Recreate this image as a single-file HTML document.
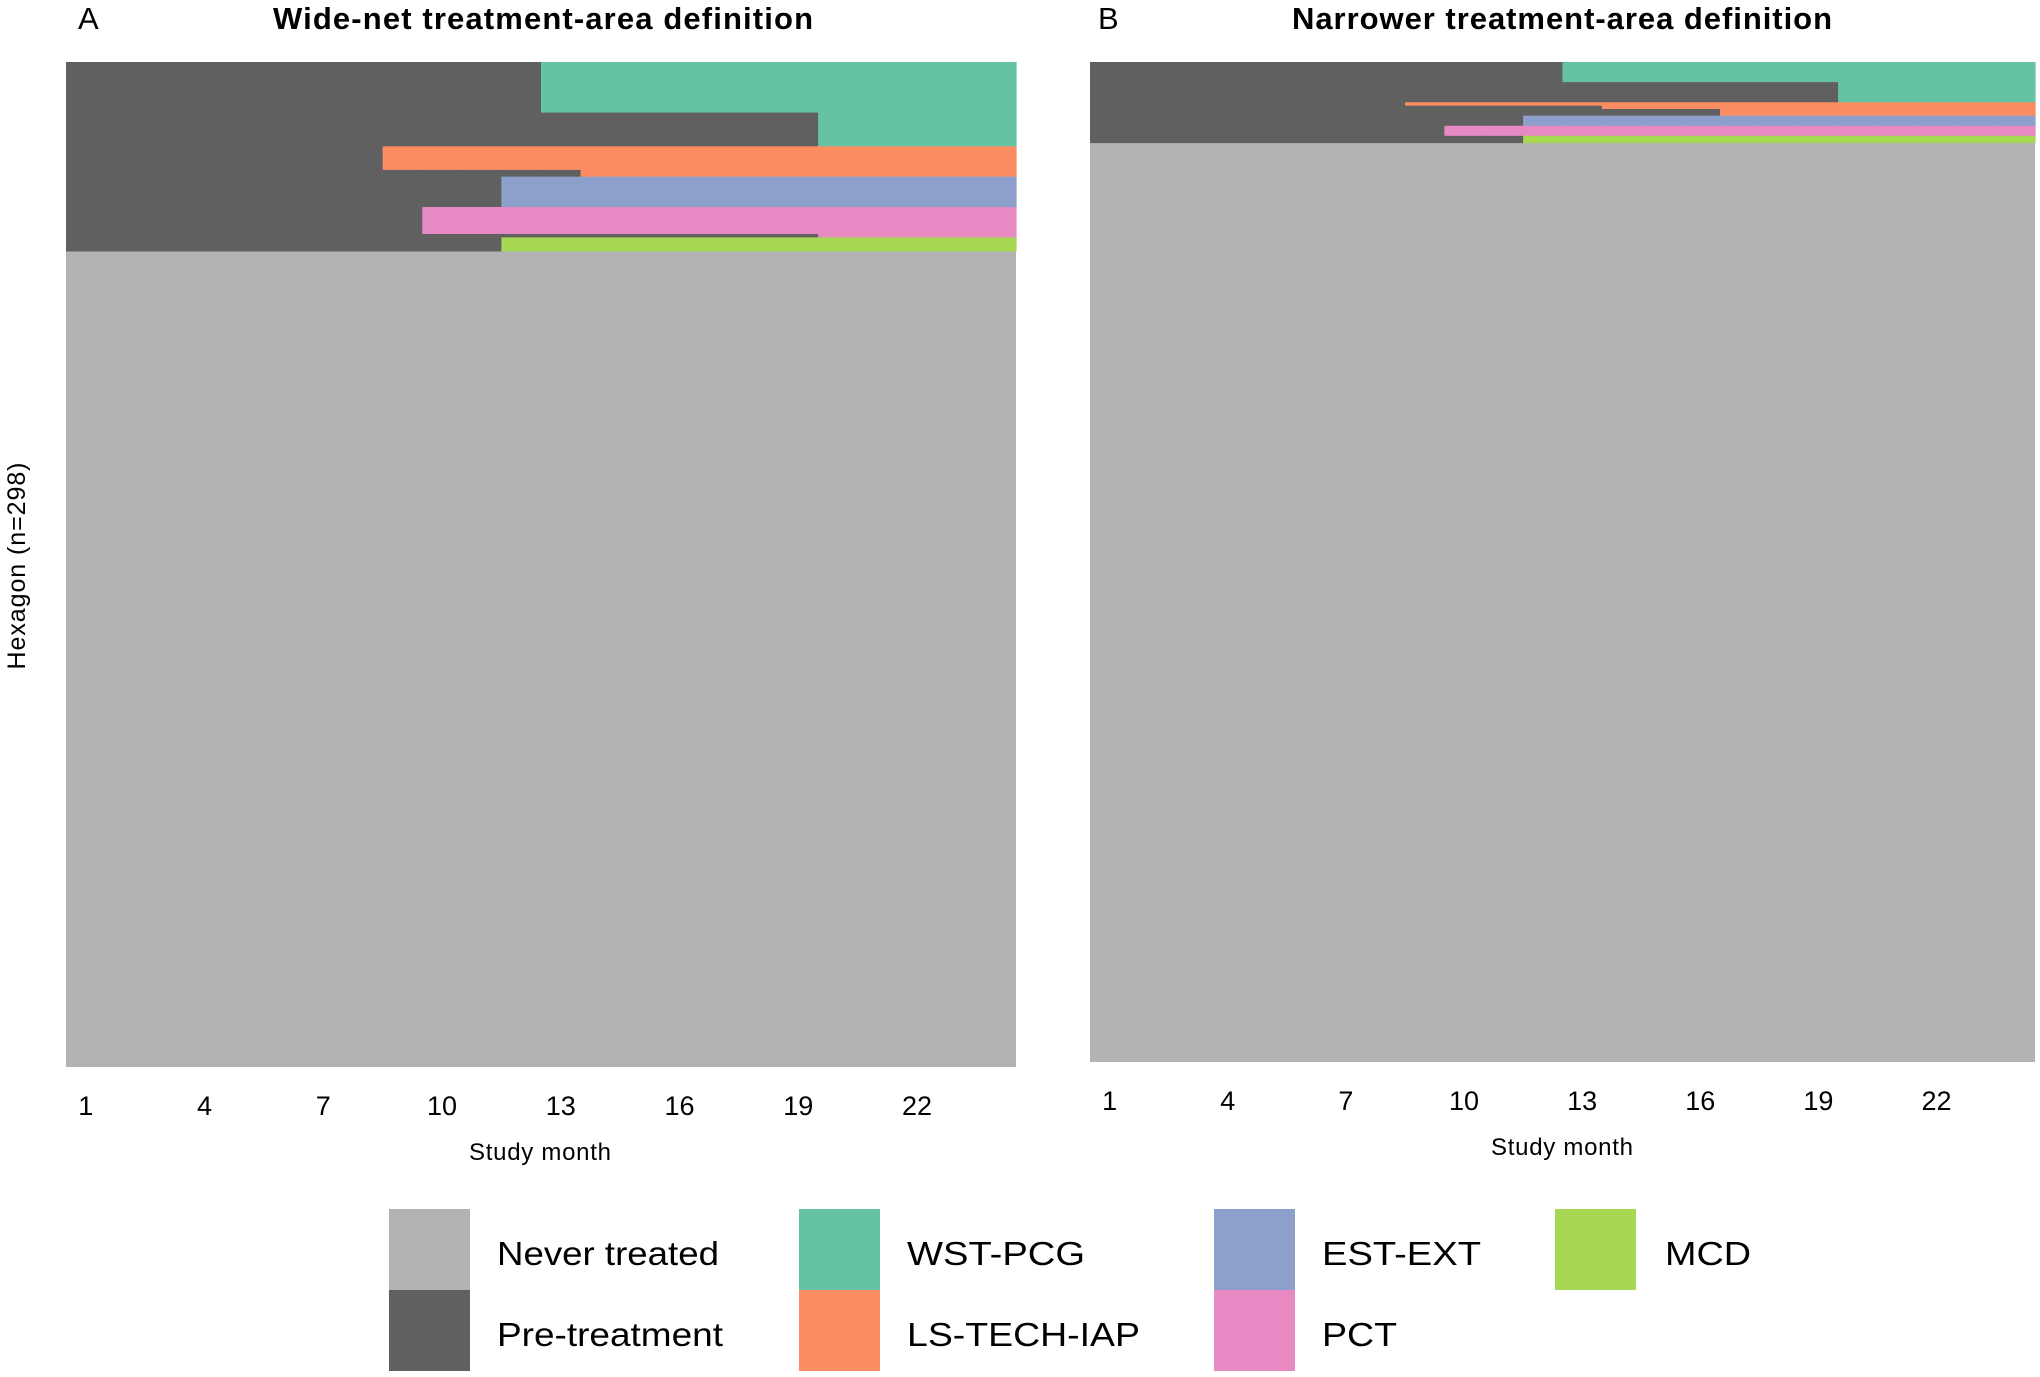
<!DOCTYPE html>
<html><head><meta charset="utf-8"><style>
html,body{margin:0;padding:0;background:#fff;}
svg{display:block;font-family:"Liberation Sans",Arial,sans-serif;}
</style></head><body>
<svg id="chart" width="2040" height="1377" viewBox="0 0 2040 1377">
<text x="78" y="29" font-size="31">A</text>
<text x="543" y="29" font-size="31" font-weight="bold" text-anchor="middle" textLength="540">Wide-net treatment-area definition</text>
<text x="1098" y="29" font-size="31">B</text>
<text x="1562" y="29" font-size="31" font-weight="bold" text-anchor="middle" textLength="540">Narrower treatment-area definition</text>
<text transform="translate(25,566) rotate(-90)" font-size="25" text-anchor="middle" textLength="207">Hexagon (n=298)</text>
<g id="panelA"></g>
<g id="panelB"></g>
<g id="legend"></g>
</svg>
<script>
const months = [1,2,3,4,5,6,7,8,9,10,11,12,13,14,15,16,17,18,19,20,21,22,23,24];
const tickLabels = [1,4,7,10,13,16,19,22];
const totalHexagons = 298;
const categories = ["Never treated","Pre-treatment","WST-PCG","LS-TECH-IAP","EST-EXT","PCT","MCD"];
// Panel A groups: number of hexagons, first treated month, treatment
const aRows = [15,10,7,2,9,8,1,4];
const aStart = [13,20,9,14,12,10,20,12];
const aType = ["WST-PCG","WST-PCG","LS-TECH-IAP","LS-TECH-IAP","EST-EXT","PCT","PCT","MCD"];
// Panel B groups
const bRows = [6,6,1,1,2,3,3,2];
const bStart = [13,20,9,14,17,12,10,12];
const bType = ["WST-PCG","WST-PCG","LS-TECH-IAP","LS-TECH-IAP","LS-TECH-IAP","EST-EXT","PCT","MCD"];

const colors = {"Never treated":"#b3b3b3","Pre-treatment":"#606060","WST-PCG":"#66c2a5","LS-TECH-IAP":"#fc8d62","EST-EXT":"#8da0cb","PCT":"#e78ac3","MCD":"#a6d854"};
const NS = "http://www.w3.org/2000/svg";
function mk(tag, attrs, parent){const e=document.createElementNS(NS,tag);for(const k in attrs)e.setAttribute(k,attrs[k]);parent.appendChild(e);return e;}

function drawPanel(g, x0, x1, y0, y1, rows, starts, types, tickY, titleY, cx){
  const nM = months.length;
  const xs = m => x0 + (m - 0.5) * (x1 - x0) / nM;
  const cw = (x1 - x0) / nM;
  const rh = (y1 - y0) / totalHexagons;
  const ys = r => y0 + r * rh;
  const bg = mk("rect",{x:x0,y:y0,width:x1-x0,height:y1-y0,fill:colors["Never treated"]},g);
  
  
  let r = 0;
  rows.forEach((n,i)=>{
    months.forEach(m=>{
      const c = m < starts[i] ? colors["Pre-treatment"] : colors[types[i]];
      const t = mk("rect",{x:xs(m)-cw/2,y:ys(r),width:cw+0.6,height:n*rh+0.6,fill:c},g);
      
      
    });
    r += n;
  });
  tickLabels.forEach(v=>{
    const t = mk("text",{x:xs(v),y:tickY,"font-size":27,"text-anchor":"middle"},g);
    t.textContent = v;
    
    
  });
  const at = mk("text",{x:cx,y:titleY,"font-size":24,"text-anchor":"middle",textLength:142},g);
  at.textContent = "Study month";
  
  
}
drawPanel(document.getElementById('panelA'), 66, 1016, 62, 1067, aRows, aStart, aType, 1115, 1160, 540);
drawPanel(document.getElementById('panelB'), 1090, 2035, 62, 1062, bRows, bStart, bType, 1110, 1155, 1562);

const legendCols = [[389,497],[799,907],[1214,1322],[1555,1665]];
const legendOrder = ["Never treated","Pre-treatment","WST-PCG","LS-TECH-IAP","EST-EXT","PCT","MCD"];
const legendWidths = [222,226,178,233,159,75,86];
const lg = document.getElementById('legend');
legendOrder.forEach((c,i)=>{
  const col = Math.floor(i/2), row = i%2;
  const ky = 1209 + row*81;
  const k = mk("rect",{x:legendCols[col][0],y:ky,width:81,height:81,fill:colors[c]},lg);
  
  
  const t = mk("text",{x:legendCols[col][1],y:ky+56,"font-size":33,textLength:legendWidths[i],lengthAdjust:"spacingAndGlyphs"},lg);
  t.textContent = c;
  
  
});
</script>
</body></html>
